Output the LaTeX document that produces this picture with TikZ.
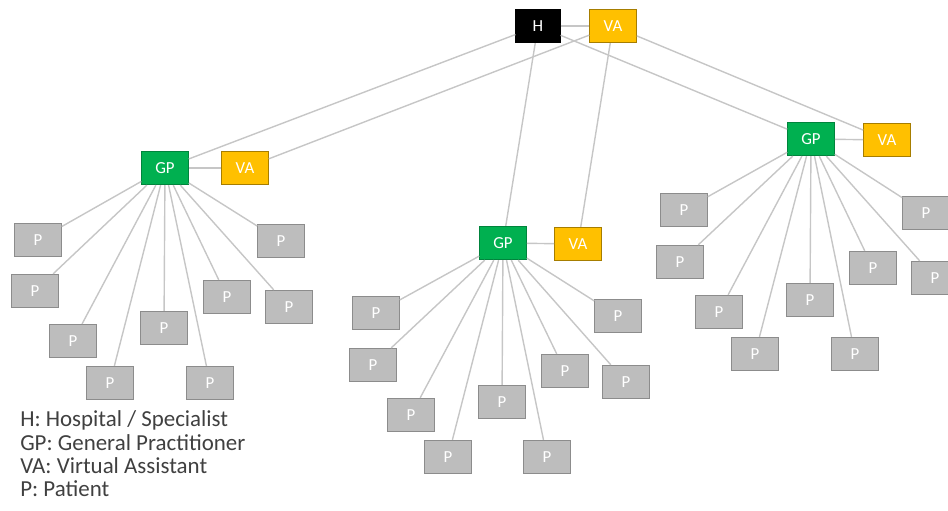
\documentclass[tikz,border=0pt]{standalone}
\usepackage{fontspec}
\setmainfont{Carlito}
\usetikzlibrary{positioning}
\definecolor{gpgreen}{HTML}{00B050}
\definecolor{vagold}{HTML}{FFC000}
\definecolor{pgrey}{HTML}{BDBDBD}
\definecolor{linkgrey}{HTML}{C6C6C6}
\definecolor{legendtext}{HTML}{404040}

\begin{document}
\begin{tikzpicture}
  [x=0.025cm, y=-0.025cm, font=\fontsize{12}{14}\selectfont,
  box/.style={rectangle, minimum width=1.16cm, minimum height=0.83cm,
    inner sep=0pt, text=white, line width=0.8pt},
  hbox/.style={box, minimum width=1.1cm, fill=black, draw=black},
  vabox/.style={box, fill=vagold, draw=black!35!vagold},
  gpbox/.style={box, fill=gpgreen, draw=black!25!gpgreen},
  pbox/.style={box, fill=pgrey, draw=black!45},
  link/.style={draw=linkgrey, line width=1pt},
  legend/.style={anchor=base west, inner sep=0pt, text=legendtext,
    font=\fontsize{16.3}{18}\selectfont}]
  \clip (0,0) rectangle (948,511);
  % top level
  \node[hbox] (h) at (538,26) {H};
  \node[vabox] (va) at (613,26) {VA};
  \draw[link] (h) -- (va);
  % the three practices
  \node[gpbox] (lgp) at (165,168) {GP};
  \node[vabox] (lva) at (245,168) {VA};
  \node[gpbox] (mgp) at (503,243) {GP};
  \node[vabox] (mva) at (578,244) {VA};
  \node[gpbox] (rgp) at (811,139) {GP};
  \node[vabox] (rva) at (887,140) {VA};
  \foreach \g in {l,m,r} {
    \draw[link] (h) -- (\g gp);
    \draw[link] (va) -- (\g va);
    \draw[link] (\g gp) -- (\g va);
  }
  % patients
  \foreach \px/\py [count=\i] in {38/240, 35/291, 73/341, 110/383, 164/328,
      210/383, 227/297, 289/307, 281/241} {
    \node[pbox] (lp\i) at (\px,\py) {P};
    \draw[link] (lgp) -- (lp\i);
  }
  \foreach \px/\py [count=\i] in {376/313, 373/365, 411/415, 448/457, 502/402,
      547/457, 565/371, 626/382, 618/316} {
    \node[pbox] (mp\i) at (\px,\py) {P};
    \draw[link] (mgp) -- (mp\i);
  }
  \foreach \px/\py [count=\i] in {684/210, 680/262, 719/312, 755/354, 810/300,
      855/354, 873/268, 935/278, 926/213} {
    \node[pbox] (rp\i) at (\px,\py) {P};
    \draw[link] (rgp) -- (rp\i);
  }
  % legend
  \node[legend] (leg1) at (20,427) {H: Hospital / Specialist};
  \node[legend] (leg2) at (20,450) {GP: General Practitioner};
  \node[legend] (leg3) at (20,473) {VA: Virtual Assistant};
  \node[legend] (leg4) at (20,496) {P: Patient};
\end{tikzpicture}
\end{document}
